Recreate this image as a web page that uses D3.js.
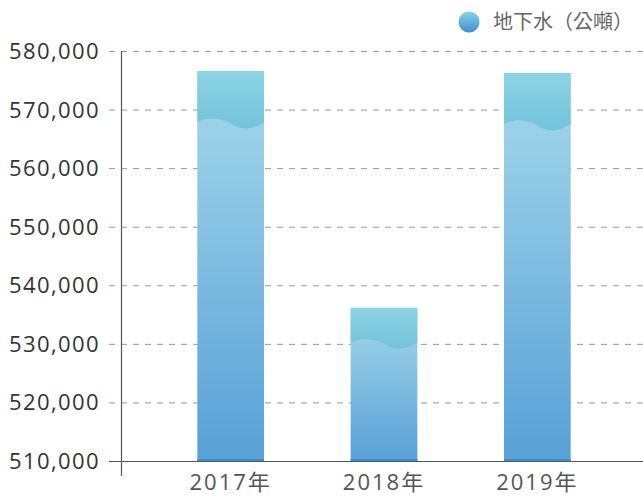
<!DOCTYPE html>
<html>
<head>
<meta charset="utf-8">
<script src="https://cdn.jsdelivr.net/npm/d3@7"></script>
<style>
  body { margin: 0; background: #fff; }
  svg text { font-family: "Open Sans", "Noto Sans CJK TC", sans-serif; }
</style>
</head>
<body>
<svg id="chart" width="643" height="497"></svg>
<script>
/* --- data --- */
var years = ["2017年", "2018年", "2019年"];
var groundwater = [576600, 536150, 576250];
var yTicks = [510000, 520000, 530000, 540000, 550000, 560000, 570000, 580000];
var legendLabel = "地下水（公噸）";

/* --- layout --- */
var width = 643;
var height = 497;
var axisX = 121;
var axisY = 461;

var svg = d3.select("#chart");
var defs = svg.append("defs");

var x = d3.scaleBand().domain(years).range([154, 614]).paddingInner(0.565).paddingOuter(0.2825);
var y = d3.scaleLinear().domain([510000, 580000]).range([axisY, 51]);

// gradients
var body = defs.append("linearGradient").attr("id", "bodyGrad")
    .attr("x1", 0).attr("y1", 0).attr("x2", 0).attr("y2", 1);
body.append("stop").attr("offset", "0%").attr("stop-color", "#a6d9eb");
body.append("stop").attr("offset", "100%").attr("stop-color", "#57a0d6");

var cap = defs.append("linearGradient").attr("id", "capGrad")
    .attr("x1", 0).attr("y1", 0).attr("x2", 0).attr("y2", 1);
cap.append("stop").attr("offset", "0%").attr("stop-color", "#8dd4e3");
cap.append("stop").attr("offset", "100%").attr("stop-color", "#72c3dc");

var dot = defs.append("linearGradient").attr("id", "dotGrad")
    .attr("x1", 0).attr("y1", 0).attr("x2", 0).attr("y2", 1);
dot.append("stop").attr("offset", "0%").attr("stop-color", "#8ad3e3");
dot.append("stop").attr("offset", "100%").attr("stop-color", "#3f8fd2");

// grid
svg.append("g")
    .selectAll("line")
    .data(yTicks)
    .join("line")
    .attr("x1", 109)
    .attr("x2", width)
    .attr("y1", d => y(d) + 0.5)
    .attr("y2", d => y(d) + 0.5)
    .attr("stroke", "#999")
    .attr("stroke-dasharray", "6,6");

// bars
var bars = svg.append("g")
    .selectAll("g")
    .data(years.map((d, i) => ({year: d, value: groundwater[i]})))
    .join("g");

bars.append("rect")
    .attr("x", d => x(d.year))
    .attr("y", d => y(d.value))
    .attr("width", x.bandwidth())
    .attr("height", d => axisY - y(d.value))
    .attr("fill", "url(#bodyGrad)");

bars.append("path")
    .attr("fill", "url(#capGrad)")
    .attr("d", function(d) {
        var x0 = x(d.year), w = x.bandwidth();
        var top = y(d.value);
        var depth = 25 + 0.07 * (axisY - top);
        var p = d3.path();
        p.moveTo(x0, top);
        p.lineTo(x0 + w, top);
        p.lineTo(x0 + w, top + depth - 1);
        p.bezierCurveTo(x0 + w * 0.75, top + depth + 9, x0 + w * 0.6, top + depth + 5,
                        x0 + w * 0.5, top + depth);
        p.bezierCurveTo(x0 + w * 0.3, top + depth - 6, x0 + w * 0.15, top + depth - 6,
                        x0, top + depth - 1);
        p.closePath();
        return p.toString();
    });

bars.append("rect")
    .attr("x", d => x(d.year))
    .attr("y", axisY - 2)
    .attr("width", x.bandwidth())
    .attr("height", 2)
    .attr("fill", "#3b8fcf");

// axes
svg.append("line")
    .attr("x1", axisX + 0.5).attr("x2", axisX + 0.5)
    .attr("y1", 51).attr("y2", 476)
    .attr("stroke", "#555").attr("stroke-width", 1.2);

svg.append("line")
    .attr("x1", 109).attr("x2", width)
    .attr("y1", axisY + 0.5).attr("y2", axisY + 0.5)
    .attr("stroke", "#555").attr("stroke-width", 1.2);

// y labels
svg.append("g")
    .selectAll("text")
    .data(yTicks)
    .join("text")
    .attr("x", 100)
    .attr("y", d => y(d) + 8)
    .attr("text-anchor", "end")
    .attr("fill", "#333")
    .attr("font-size", 22)
    .attr("letter-spacing", 1.4)
    .text(d => d3.format(",")(d));

// x labels
svg.append("g")
    .selectAll("text")
    .data(years)
    .join("text")
    .attr("x", d => x(d) + x.bandwidth() / 2)
    .attr("y", 490)
    .attr("text-anchor", "middle")
    .attr("fill", "#555")
    .attr("font-size", 22)
    .attr("letter-spacing", 2)
    .text(d => d);

// legend
svg.append("circle")
    .attr("cx", 469).attr("cy", 22).attr("r", 10.5)
    .attr("fill", "url(#dotGrad)");

svg.append("text")
    .attr("x", 493).attr("y", 29)
    .attr("fill", "#666")
    .attr("font-size", 20)
    .text(legendLabel);
</script>
</body>
</html>
